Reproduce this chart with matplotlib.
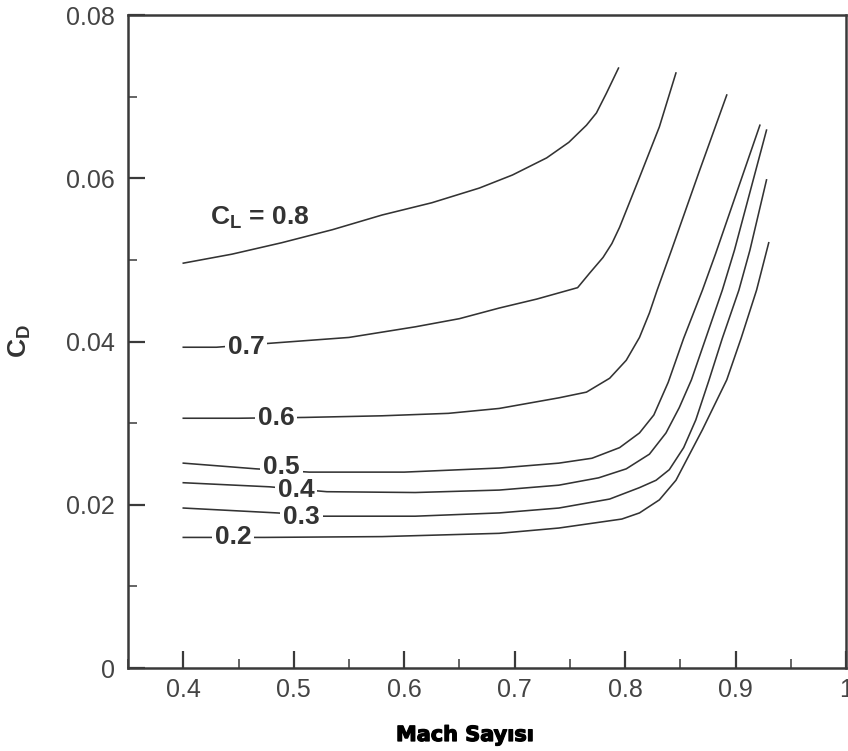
import numpy as np
import matplotlib.pyplot as plt
import matplotlib.patheffects as pe
from matplotlib.ticker import MultipleLocator

plt.rcParams['font.family'] = ['Liberation Sans', 'DejaVu Sans']

# drag polar curves, one pair per lift coefficient
mach_08 = [0.40, 0.444, 0.489, 0.535, 0.580, 0.625, 0.668, 0.698, 0.729, 0.749, 0.765, 0.774, 0.783, 0.794]
cd_08 = [0.0496, 0.0507, 0.0521, 0.0537, 0.0555, 0.0570, 0.0588, 0.0604, 0.0625, 0.0644, 0.0665, 0.0680, 0.0704, 0.0735]

mach_07 = [0.40, 0.43, 0.48, 0.55, 0.61, 0.65, 0.686, 0.72, 0.757, 0.768, 0.780, 0.788, 0.795, 0.813, 0.831, 0.846]
cd_07 = [0.0393, 0.0393, 0.0398, 0.0405, 0.0418, 0.0428, 0.0441, 0.0452, 0.0466, 0.0484, 0.0503, 0.0520, 0.0540, 0.0601, 0.0663, 0.0729]

mach_06 = [0.40, 0.45, 0.51, 0.58, 0.64, 0.686, 0.740, 0.765, 0.786, 0.801, 0.813, 0.822, 0.829, 0.842, 0.867, 0.892]
cd_06 = [0.0306, 0.0306, 0.0307, 0.0309, 0.0312, 0.0318, 0.0331, 0.0338, 0.0355, 0.0377, 0.0405, 0.0435, 0.0463, 0.0512, 0.0608, 0.0702]

mach_05 = [0.40, 0.466, 0.514, 0.60, 0.686, 0.740, 0.770, 0.795, 0.813, 0.826, 0.839, 0.853, 0.870, 0.882, 0.922]
cd_05 = [0.0251, 0.0244, 0.0240, 0.0240, 0.0245, 0.0251, 0.0257, 0.0270, 0.0288, 0.0310, 0.0350, 0.0404, 0.0463, 0.0508, 0.0665]

mach_04 = [0.40, 0.478, 0.53, 0.61, 0.686, 0.740, 0.776, 0.801, 0.822, 0.837, 0.849, 0.860, 0.873, 0.888, 0.899, 0.928]
cd_04 = [0.0227, 0.0222, 0.0216, 0.0215, 0.0218, 0.0224, 0.0233, 0.0244, 0.0262, 0.0288, 0.0319, 0.0353, 0.0404, 0.0463, 0.0512, 0.0659]

mach_03 = [0.40, 0.485, 0.527, 0.61, 0.686, 0.740, 0.786, 0.813, 0.828, 0.840, 0.853, 0.864, 0.876, 0.888, 0.903, 0.913, 0.928]
cd_03 = [0.0196, 0.0190, 0.0186, 0.0186, 0.0190, 0.0196, 0.0207, 0.0221, 0.0230, 0.0243, 0.0270, 0.0304, 0.0353, 0.0404, 0.0463, 0.0512, 0.0598]

mach_02 = [0.40, 0.473, 0.58, 0.686, 0.740, 0.797, 0.813, 0.831, 0.846, 0.870, 0.892, 0.905, 0.919, 0.930]
cd_02 = [0.0160, 0.0160, 0.0161, 0.0165, 0.01715, 0.01825, 0.0190, 0.0206, 0.0230, 0.0292, 0.0353, 0.0404, 0.0463, 0.0521]

label_text = [r'C$_\mathregular{L}$ = 0.8', '0.7', '0.6', '0.5', '0.4', '0.3', '0.2']
label_x = [0.469, 0.457, 0.484, 0.489, 0.502, 0.507, 0.445]
label_y = [0.0552, 0.0393, 0.0306, 0.0246, 0.0218, 0.0185, 0.0160]

x_ticks = [0.4, 0.5, 0.6, 0.7, 0.8, 0.9, 1.0]
x_tick_labels = ['0.4', '0.5', '0.6', '0.7', '0.8', '0.9', '1']
y_ticks = [0, 0.02, 0.04, 0.06, 0.08]
y_tick_labels = ['0', '0.02', '0.04', '0.06', '0.08']

fig = plt.figure(figsize=(8.48, 7.51), dpi=100)
ax = fig.add_axes([0.151, 0.1105, 0.8467, 0.8695])

curves = [(mach_08, cd_08), (mach_07, cd_07), (mach_06, cd_06), (mach_05, cd_05),
          (mach_04, cd_04), (mach_03, cd_03), (mach_02, cd_02)]
for m, cd in curves:
    ax.plot(m, cd, color='#333333', lw=1.15, solid_joinstyle='round')

for i, t in enumerate(label_text):
    if i == 0:
        ax.text(label_x[i], label_y[i], t, fontsize=19, fontweight='bold', color='#333333',
                ha='center', va='center')
    else:
        ax.text(label_x[i], label_y[i], t, fontsize=19, fontweight='bold', color='#333333',
                ha='center', va='center',
                bbox=dict(facecolor='white', edgecolor='none', pad=2))

ax.set_xlim(0.35, 1.0)
ax.set_ylim(0, 0.08)
ax.set_xticks(x_ticks)
ax.set_xticklabels(x_tick_labels)
ax.set_yticks(y_ticks)
ax.set_yticklabels(y_tick_labels)
ax.xaxis.set_minor_locator(MultipleLocator(0.05))
ax.yaxis.set_minor_locator(MultipleLocator(0.01))
ax.tick_params(which='major', direction='in', length=12, width=1.6, color='#3a3a3a',
               labelsize=18, labelcolor='#444444')
ax.tick_params(which='minor', direction='in', length=6.5, width=1.1, color='#3a3a3a')
ax.tick_params(axis='y', which='major', pad=9.5)
ax.tick_params(axis='x', which='major', pad=7)
for s in ax.spines.values():
    s.set_linewidth(1.8)
    s.set_color('#3a3a3a')

fig.text(20 / 848, 1 - 341 / 751, r'C$_\mathregular{D}$', rotation=90, fontsize=19,
         fontweight='bold', color='#333333', ha='center', va='center')
fig.text(465 / 848, 1 - 735 / 751, 'Mach Sayısı', fontsize=15, fontweight='bold',
         family='DejaVu Sans', color='black', ha='center', va='center',
         path_effects=[pe.withStroke(linewidth=0.9, foreground='black')])

plt.savefig('out.png', dpi=100)
